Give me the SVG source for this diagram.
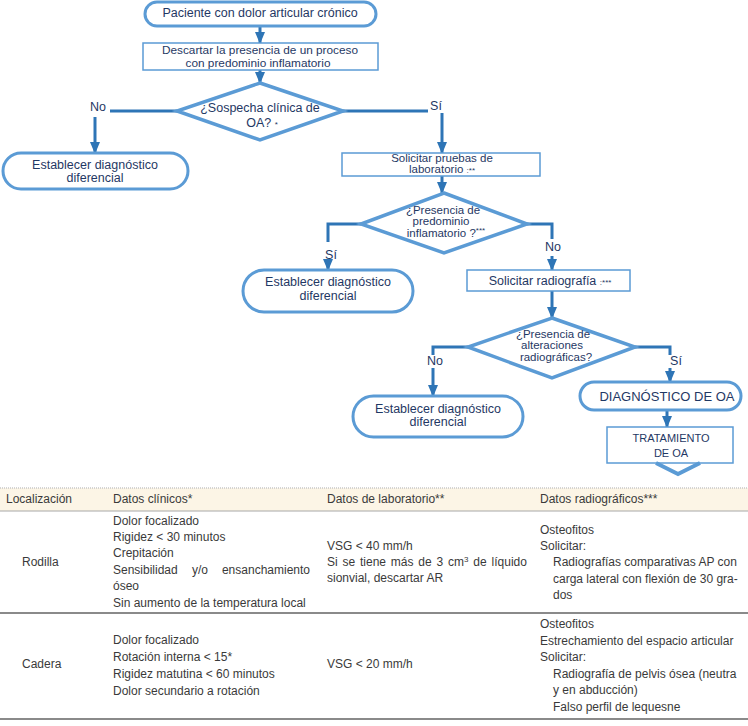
<svg xmlns="http://www.w3.org/2000/svg" width="748" height="726" viewBox="0 0 748 726">
<defs>
<marker id="ah" markerUnits="userSpaceOnUse" markerWidth="12" markerHeight="10" refX="11" refY="5" orient="auto">
<path d="M0,0 L12,5 L0,10 z" fill="#2e75b6"/>
</marker>
<style>
.term{fill:#fff;stroke:#5b9bd5;stroke-width:3}
.box{fill:#fff;stroke:#5b9bd5;stroke-width:1.5}
.dia{fill:#fff;stroke:#5b9bd5;stroke-width:3.5;stroke-linejoin:miter}
.ln{fill:none;stroke:#2e75b6;stroke-width:3}
.arr{fill:none;stroke:#2e75b6;stroke-width:3;marker-end:url(#ah)}
.t{font-family:"Liberation Sans",Arial,sans-serif;font-size:12.5px;fill:#1f3864;text-anchor:middle}
.t2{font-family:"Liberation Sans",Arial,sans-serif;font-size:11.5px;fill:#1f3864;text-anchor:middle}
.lb{font-family:"Liberation Sans",Arial,sans-serif;font-size:12.5px;fill:#1f3864;text-anchor:middle}
.sm{font-size:8px}
.tb{font-family:"Liberation Sans",Arial,sans-serif;font-size:12px;fill:#3a3a3a}
</style>
</defs>
<rect width="748" height="726" fill="#fff"/>

<g id="connectors">
<path class="arr" d="M260,26 L260,43"/>
<path class="arr" d="M260,70 L260,83"/>
<path class="ln" d="M177,111 L110,111"/>
<path class="arr" d="M95,117 L95,153"/>
<path class="ln" d="M343,111 L428,111"/>
<path class="arr" d="M442,113 L442,153"/>
<path class="arr" d="M442,176 L442,193"/>
<path class="ln" d="M361,224 L328,224 L328,242"/>
<path class="arr" d="M328,261 L328,270"/>
<path class="ln" d="M527,224 L552,224 L552,239"/>
<path class="arr" d="M552,256 L552,270"/>
<path class="arr" d="M552,291 L552,318"/>
<path class="ln" d="M468,347 L433,347 L433,355"/>
<path class="arr" d="M433,368 L433,396"/>
<path class="ln" d="M635,347 L670,347 L670,355"/>
<path class="arr" d="M670,368 L670,382"/>
<path class="arr" d="M667,410 L667,427"/>
<text class="lb" x="98" y="111">No</text>
<text class="lb" x="436" y="110">Sí</text>
<text class="lb" x="331" y="259">Sí</text>
<text class="lb" x="553" y="251">No</text>
<text class="lb" x="435" y="365">No</text>
<text class="lb" x="676" y="365">Sí</text>
</g>

<g id="n_inicio">
<rect class="term" x="145" y="2" width="231" height="24" rx="12"/>
<text class="t" x="260" y="17">Paciente con dolor articular crónico</text>
</g>

<g id="n_descartar">
<rect class="box" x="143" y="43" width="235" height="27"/>
<text class="t2" x="260" y="54" style="font-size:11.8px">Descartar la presencia de un proceso</text>
<text class="t2" x="258" y="67" style="font-size:11.8px">con predominio inflamatorio</text>
</g>

<g id="n_sospecha">
<polygon class="dia" points="260,83 343,111 260,140 177,111"/>
<text class="t" x="260" y="112">¿Sospecha clínica de</text>
<text class="t" x="262" y="127">OA? <tspan class="sm">*</tspan></text>
</g>

<g id="n_lab">
<rect class="box" x="342" y="153" width="198" height="23"/>
<text class="t2" x="442" y="162">Solicitar pruebas de</text>
<text class="t2" x="442" y="173">laboratorio <tspan class="sm">:**</tspan></text>
</g>

<g id="n_dif1">
<rect class="term" x="3" y="153" width="185" height="36" rx="18"/>
<text class="t" x="95" y="169">Establecer diagnóstico</text>
<text class="t" x="95" y="182">diferencial</text>
</g>

<g id="n_inflam">
<polygon class="dia" points="444,193 527,224 444,253 361,224"/>
<text class="t2" x="443" y="214">¿Presencia de</text>
<text class="t2" x="441" y="225">predominio</text>
<text class="t2" x="446" y="237">inflamatorio ?<tspan class="sm" dy="-4">***</tspan></text>
</g>

<g id="n_dif2">
<rect class="term" x="243" y="270" width="170" height="42" rx="21"/>
<text class="t" x="328" y="286">Establecer diagnóstico</text>
<text class="t" x="328" y="300">diferencial</text>
</g>

<g id="n_rx">
<rect class="box" x="467" y="270" width="163" height="21"/>
<text class="t" x="550" y="285">Solicitar radiografía <tspan class="sm">:***</tspan></text>
</g>

<g id="n_alter">
<polygon class="dia" points="552,318 635,347 552,378 468,347"/>
<text class="t2" x="553" y="338">¿Presencia de</text>
<text class="t2" x="552" y="349">alteraciones</text>
<text class="t2" x="556" y="361">radiográficas?</text>
</g>

<g id="n_dif3">
<rect class="term" x="353" y="396" width="170" height="41" rx="20.5"/>
<text class="t" x="438" y="413">Establecer diagnóstico</text>
<text class="t" x="438" y="426">diferencial</text>
</g>

<g id="n_diag">
<rect class="term" x="580" y="382" width="161" height="28" rx="14"/>
<text class="t" x="667" y="401" style="font-size:13px">DIAGNÓSTICO DE OA</text>
</g>

<g id="n_trat">
<rect class="box" x="607" y="427" width="126" height="36"/>
<text class="t" x="671" y="442" style="font-size:11px">TRATAMIENTO</text>
<text class="t" x="671" y="457" style="font-size:11px">DE OA</text>
<path d="M656,463 L678,474 L700,463" fill="none" stroke="#5b9bd5" stroke-width="4"/>
</g>

<g id="tabla">
<rect x="0" y="488" width="748" height="23" fill="#fcf5e6"/>
<line x1="0" y1="488" x2="748" y2="488" stroke="#c8c8c8" stroke-width="1.5" stroke-dasharray="1,1"/>
<line x1="0" y1="511" x2="748" y2="511" stroke="#a8a8a8" stroke-width="1"/>
<line x1="0" y1="613" x2="748" y2="613" stroke="#8a8a8a" stroke-width="2"/>
<line x1="0" y1="719" x2="748" y2="719" stroke="#8a8a8a" stroke-width="2"/>

<text class="tb" x="6" y="503">Localización</text>
<text class="tb" x="113" y="503">Datos clínicos*</text>
<text class="tb" x="327" y="503">Datos de laboratorio**</text>
<text class="tb" x="540" y="503">Datos radiográficos***</text>

<text class="tb" x="22" y="566">Rodilla</text>
<text class="tb" x="113" y="525">Dolor focalizado</text>
<text class="tb" x="113" y="541">Rigidez &lt; 30 minutos</text>
<text class="tb" x="113" y="557">Crepitación</text>
<text class="tb" y="574"><tspan x="113">Sensibilidad</tspan><tspan x="192">y/o</tspan><tspan x="310" text-anchor="end">ensanchamiento</tspan></text>
<text class="tb" x="113" y="590">óseo</text>
<text class="tb" x="113" y="607">Sin aumento de la temperatura local</text>

<text class="tb" x="327" y="550">VSG &lt; 40 mm/h</text>
<text class="tb" x="327" y="566" style="word-spacing:1.5px">Si se tiene más de 3 cm<tspan dy="-4" style="font-size:8px">3</tspan><tspan dy="4"> de líquido</tspan></text>
<text class="tb" x="327" y="582">sionvial, descartar AR</text>

<text class="tb" x="540" y="534">Osteofitos</text>
<text class="tb" x="540" y="550">Solicitar:</text>
<text class="tb" x="553" y="566">Radiografías comparativas AP con</text>
<text class="tb" x="553" y="583">carga lateral con flexión de 30 gra-</text>
<text class="tb" x="553" y="599">dos</text>

<text class="tb" x="22" y="668">Cadera</text>
<text class="tb" x="113" y="644">Dolor focalizado</text>
<text class="tb" x="113" y="661">Rotación interna &lt; 15*</text>
<text class="tb" x="113" y="678">Rigidez matutina &lt; 60 minutos</text>
<text class="tb" x="113" y="695">Dolor secundario a rotación</text>

<text class="tb" x="327" y="668">VSG &lt; 20 mm/h</text>

<text class="tb" x="540" y="628">Osteofitos</text>
<text class="tb" x="540" y="645">Estrechamiento del espacio articular</text>
<text class="tb" x="540" y="661">Solicitar:</text>
<text class="tb" x="553" y="678">Radiografía de pelvis ósea (neutra</text>
<text class="tb" x="553" y="694">y en abducción)</text>
<text class="tb" x="553" y="711">Falso perfil de lequesne</text>
</g>
</svg>
